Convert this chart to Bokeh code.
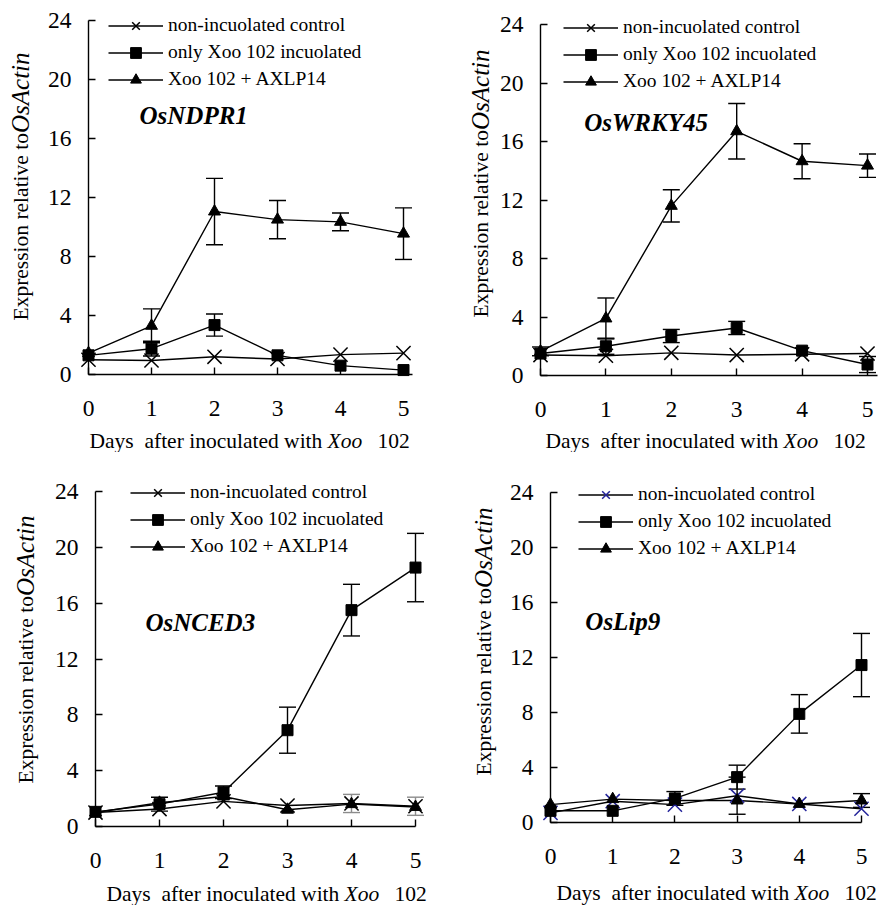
from bokeh.plotting import figure
from bokeh.models import (Range1d, Whisker, TeeHead, ColumnDataSource, Label,
                          Legend, LegendItem, FixedTicker)
from bokeh.layouts import column, row
from bokeh.embed import file_html
from bokeh.resources import INLINE

days = [0, 1, 2, 3, 4, 5]
x_ticks = [0, 1, 2, 3, 4, 5]
y_ticks = [0, 4, 8, 12, 16, 20, 24]
series_names = ["non-incuolated control", "only Xoo 102 incuolated", "Xoo 102 + AXLP14"]
genes = ["OsNDPR1", "OsWRKY45", "OsNCED3", "OsLip9"]

# OsNDPR1
ndpr1_ctrl = [1.0, 0.95, 1.2, 1.05, 1.35, 1.45]
ndpr1_ctrl_err = [0, 0, 0, 0, 0, 0]
ndpr1_only = [1.3, 1.75, 3.35, 1.3, 0.6, 0.3]
ndpr1_only_err = [0, 0.5, 0.75, 0, 0, 0]
ndpr1_axlp = [1.45, 3.3, 11.05, 10.5, 10.35, 9.55]
ndpr1_axlp_err = [0, 1.15, 2.25, 1.3, 0.6, 1.75]

# OsWRKY45
wrky45_ctrl = [1.4, 1.35, 1.55, 1.4, 1.45, 1.5]
wrky45_ctrl_err = [0, 0, 0, 0, 0, 0]
wrky45_only = [1.5, 2.0, 2.7, 3.25, 1.7, 0.75]
wrky45_only_err = [0, 0.55, 0.45, 0.45, 0, 0.55]
wrky45_axlp = [1.65, 3.9, 11.6, 16.7, 14.65, 14.35]
wrky45_axlp_err = [0.3, 1.4, 1.1, 1.9, 1.2, 0.8]

# OsNCED3
nced3_ctrl = [1.0, 1.25, 1.8, 1.5, 1.65, 1.45]
nced3_ctrl_err = [0, 0, 0, 0, 0.65, 0.65]
nced3_only = [1.05, 1.6, 2.45, 6.9, 15.5, 18.55]
nced3_only_err = [0, 0.5, 0.45, 1.65, 1.85, 2.45]
nced3_axlp = [1.0, 1.7, 2.15, 1.2, 1.6, 1.4]
nced3_axlp_err = [0, 0, 0, 0, 0, 0]

# OsLip9
lip9_ctrl = [0.7, 1.55, 1.3, 1.95, 1.35, 1.0]
lip9_ctrl_err = [0, 0, 0, 1.35, 0, 0]
lip9_only = [0.85, 0.85, 1.75, 3.3, 7.9, 11.45]
lip9_only_err = [0, 0, 0.5, 0.87, 1.4, 2.3]
lip9_axlp = [1.3, 1.7, 1.6, 1.6, 1.35, 1.6]
lip9_axlp_err = [0, 0, 0, 0, 0, 0.5]

SERIF = "Liberation Serif"
BLACK = "#000000"
W_EXPR = 187.5
XOO_DX = 238
N102_DX = 288
ROW_H = 27
LEG_H = 3 * ROW_H


def add_err(p, y, err, color):
    xs = [d for d, e in zip(days, err) if e > 0]
    lo = [v - e for v, e in zip(y, err) if e > 0]
    hi = [v + e for v, e in zip(y, err) if e > 0]
    if not xs:
        return
    src = ColumnDataSource(dict(base=xs, lower=lo, upper=hi))
    w = Whisker(source=src, base="base", lower="lower", upper="upper",
                line_color=color, line_width=1.4,
                upper_head=TeeHead(size=17, line_color=color, line_width=1.4),
                lower_head=TeeHead(size=17, line_color=color, line_width=1.4))
    p.add_layout(w)


def make_panel(gene, ctrl, ctrl_err, only, only_err, axlp, axlp_err, L,
               ctrl_color=BLACK, ctrl_err_color=BLACK):
    W, H = L["W"], L["H"]
    ax, yt, yb, x5 = L["axis_x"], L["y_top"], L["y_bottom"], L["x5"]
    ppd = (x5 - ax) / 5.0
    s = (yb - yt) / 24.0
    x_start = -ax / ppd
    x_end = (W - ax) / ppd
    y_start = -(H - yb) / s
    y_end = 24 + yt / s
    p = figure(width=W, height=H, x_range=Range1d(x_start, x_end),
               y_range=Range1d(y_start, y_end),
               output_backend="svg", toolbar_location=None,
               min_border=0, min_border_left=0, min_border_right=0,
               min_border_top=0, min_border_bottom=0)
    p.title.visible = False
    p.outline_line_color = None
    p.grid.visible = False
    p.background_fill_color = "white"
    p.border_fill_color = "white"

    xa = p.xaxis[0]
    xa.ticker = FixedTicker(ticks=x_ticks)
    xa.fixed_location = 0
    xa.bounds = (0, L["xbound"])
    ya = p.yaxis[0]
    ya.ticker = FixedTicker(ticks=y_ticks)
    ya.fixed_location = 0
    ya.bounds = (0, 24)
    for a in (xa, ya):
        a.axis_line_color = BLACK
        a.axis_line_width = 1.4
        a.major_tick_line_color = BLACK
        a.major_tick_line_width = 1.4
        a.major_tick_in = 7
        a.major_tick_out = 0
        a.minor_tick_line_color = None
        a.major_label_text_font = SERIF
        a.major_label_text_font_size = "23.5px"
        a.major_label_text_color = BLACK
    xa.major_label_standoff = 26
    ya.major_label_standoff = 17

    # lines
    l1 = p.line(days, ctrl, line_color=BLACK, line_width=1.4)
    l2 = p.line(days, only, line_color=BLACK, line_width=1.4)
    l3 = p.line(days, axlp, line_color=BLACK, line_width=1.4)
    # error bars
    add_err(p, ctrl, ctrl_err, ctrl_err_color)
    add_err(p, only, only_err, BLACK)
    add_err(p, axlp, axlp_err, BLACK)
    # markers
    m1 = p.scatter(days, ctrl, marker="x", size=20, line_color=ctrl_color, line_width=1.5)
    m2 = p.scatter(days, only, marker="square", size=11, fill_color=BLACK, line_color=BLACK)
    m3 = p.scatter(days, axlp, marker="triangle", size=12, fill_color=BLACK, line_color=BLACK)

    # legend: top edge = y_top - lg_top - 1.5 so that row centres stay in place
    legend = Legend(items=[LegendItem(label=series_names[0], renderers=[l1, m1]),
                           LegendItem(label=series_names[1], renderers=[l2, m2]),
                           LegendItem(label=series_names[2], renderers=[l3, m3])],
                    location=(ax + L["lg_dx"], H - yt + L["lg_top"] + 1.5 - LEG_H),
                    background_fill_alpha=0, border_line_color=None,
                    padding=0, margin=0, spacing=0,
                    glyph_width=55, glyph_height=ROW_H, label_height=ROW_H, label_standoff=5,
                    label_text_font=SERIF, label_text_font_size="19.5px",
                    label_text_color=BLACK)
    p.add_layout(legend)

    # gene name
    p.add_layout(Label(x=L["gene_x"], y=L["gene_y"], text=gene, text_font=SERIF,
                       text_font_style="bold italic", text_font_size="25px",
                       text_baseline="middle", text_align="left", text_color=BLACK))

    # y-axis title
    yx = ax + L["yt_dx"]
    yy = (H - yb) + L["yt_dy"]
    p.add_layout(Label(x=yx, y=yy, x_units="screen", y_units="screen",
                       text="Expression relative to", angle=90, angle_units="deg",
                       text_align="left", text_baseline="middle", text_font=SERIF,
                       text_font_size="21.5px", text_color=BLACK))
    p.add_layout(Label(x=yx, y=yy + W_EXPR, x_units="screen", y_units="screen",
                       text="OsActin", angle=90, angle_units="deg",
                       text_align="left", text_baseline="middle", text_font=SERIF,
                       text_font_style="italic", text_font_size="25px", text_color=BLACK))
    # x-axis title
    xt_x = ax + L["xt_dx"]
    xt_y = (H - yb) - L["xt_dy"]
    p.add_layout(Label(x=xt_x, y=xt_y, x_units="screen", y_units="screen",
                       text="Days\u00a0\u00a0after inoculated with", text_align="left",
                       text_baseline="middle", text_font=SERIF, text_font_size="21.5px",
                       text_color=BLACK))
    p.add_layout(Label(x=xt_x + XOO_DX, y=xt_y, x_units="screen", y_units="screen",
                       text="Xoo", text_align="left", text_baseline="middle",
                       text_font=SERIF, text_font_style="italic", text_font_size="21.5px",
                       text_color=BLACK))
    p.add_layout(Label(x=xt_x + N102_DX, y=xt_y, x_units="screen", y_units="screen",
                       text="102", text_align="left", text_baseline="middle",
                       text_font=SERIF, text_font_size="21.5px", text_color=BLACK))
    return p


L1 = dict(W=439, H=452, axis_x=88, y_top=20, y_bottom=374, x5=403, xbound=5.14,
          yt_dx=-68, yt_dy=54, xt_dx=1, xt_dy=66, lg_dx=20, lg_top=7, gene_x=0.81, gene_y=17.55)
L2 = dict(W=439, H=452, axis_x=101, y_top=24, y_bottom=375, x5=428, xbound=5.15,
          yt_dx=-60, yt_dy=58, xt_dx=5, xt_dy=65, lg_dx=23, lg_top=9, gene_x=0.67, gene_y=17.3)
L3 = dict(W=439, H=453, axis_x=95, y_top=39, y_bottom=374, x5=415, xbound=5.0,
          yt_dx=-70, yt_dy=43, xt_dx=11, xt_dy=67, lg_dx=35, lg_top=11, gene_x=0.78, gene_y=14.6)
L4 = dict(W=439, H=453, axis_x=111, y_top=40, y_bottom=370, x5=422, xbound=5.0,
          yt_dx=-67, yt_dy=47, xt_dx=6, xt_dy=70, lg_dx=28, lg_top=10, gene_x=0.56, gene_y=14.6)

p1 = make_panel(genes[0], ndpr1_ctrl, ndpr1_ctrl_err, ndpr1_only, ndpr1_only_err,
                ndpr1_axlp, ndpr1_axlp_err, L1)
p2 = make_panel(genes[1], wrky45_ctrl, wrky45_ctrl_err, wrky45_only, wrky45_only_err,
                wrky45_axlp, wrky45_axlp_err, L2)
p3 = make_panel(genes[2], nced3_ctrl, nced3_ctrl_err, nced3_only, nced3_only_err,
                nced3_axlp, nced3_axlp_err, L3, ctrl_err_color="#8c8c8c")
p4 = make_panel(genes[3], lip9_ctrl, lip9_ctrl_err, lip9_only, lip9_only_err,
                lip9_axlp, lip9_axlp_err, L4, ctrl_color="#23239a")

layout = column(row(p1, p2), row(p3, p4))
open("out.html", "w").write(file_html(layout, INLINE))
